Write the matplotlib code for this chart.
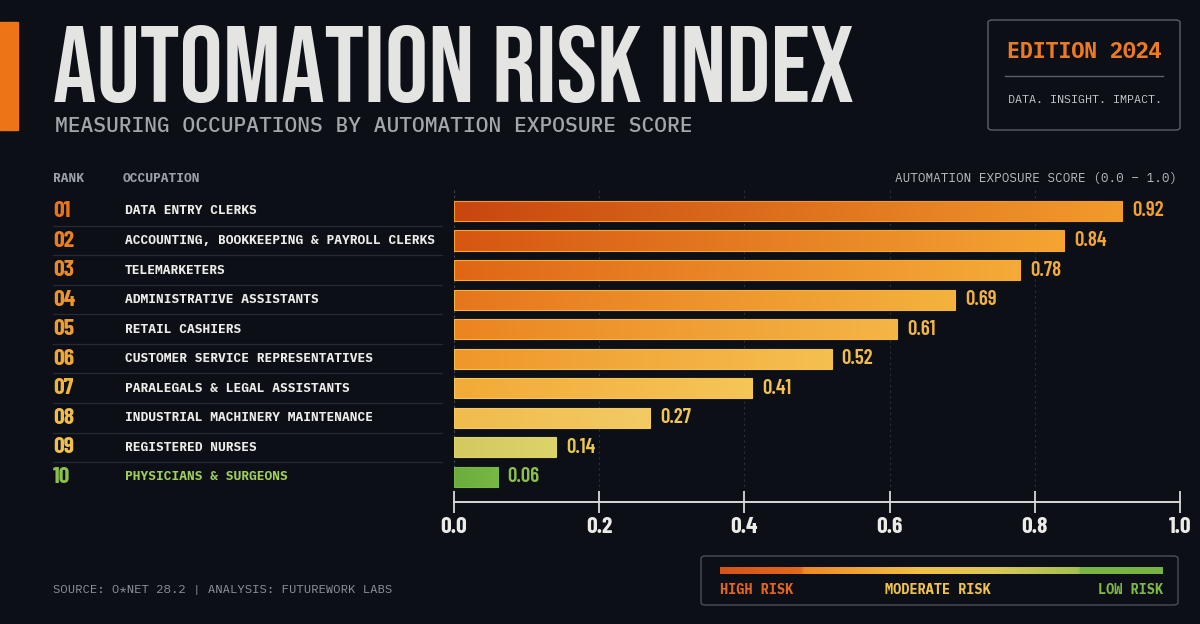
#Importing the matplotlib and numpy library
import numpy as np
import matplotlib.pyplot as plt
from matplotlib.patches import FancyBboxPatch, Rectangle
from matplotlib.colors import LinearSegmentedColormap
from matplotlib.transforms import blended_transform_factory

#Chart data
ranks = ['01', '02', '03', '04', '05', '06', '07', '08', '09', '10']
occupations = ['DATA ENTRY CLERKS',
               'ACCOUNTING, BOOKKEEPING & PAYROLL CLERKS',
               'TELEMARKETERS',
               'ADMINISTRATIVE ASSISTANTS',
               'RETAIL CASHIERS',
               'CUSTOMER SERVICE REPRESENTATIVES',
               'PARALEGALS & LEGAL ASSISTANTS',
               'INDUSTRIAL MACHINERY MAINTENANCE',
               'REGISTERED NURSES',
               'PHYSICIANS & SURGEONS']
scores = [0.92, 0.84, 0.78, 0.69, 0.61, 0.52, 0.41, 0.27, 0.14, 0.06]
x_ticks = [0.0, 0.2, 0.4, 0.6, 0.8, 1.0]

#Styles
BG = '#0c1016'
TITLE = ['Bebas Neue', 'Oswald', 'DejaVu Sans']
COND = ['Barlow Condensed', 'Oswald', 'DejaVu Sans']
MONO = ['IBM Plex Mono', 'DejaVu Sans Mono']
bar_left = ['#c9460f', '#d65612', '#e06616', '#e6761c', '#ec8420',
            '#f0962a', '#f2aa38', '#f0bc4c', '#d2ca60', '#6aac3c']
bar_right = ['#f29a2c', '#f4a533', '#f4ab38', '#f4b23e', '#f4b646',
             '#f5c050', '#f5c658', '#f3ca64', '#dcd46a', '#78b844']
rank_col = ['#e8741c', '#ea7e20', '#ec8a26', '#ee942a', '#ee9e30',
            '#f0a836', '#f0b440', '#f0bc4a', '#f0c04e', '#8cc04a']
value_col = ['#f2a030', '#f2a636', '#f2ac3a', '#f2b240', '#f2b646',
             '#f2bc4a', '#f2c050', '#f2c452', '#e8c850', '#8cc04a']
name_col = ['#ecebe8'] * 9 + ['#a0cc5a']

W, H = 1200, 624
def fx(x):
    return x / W
def fy(y):
    return 1 - y / H

fig = plt.figure(figsize=(12, 6.24), dpi=100, facecolor=BG)

#Main bar axes
ax = fig.add_axes([fx(454), fy(502), fx(1180) - fx(454), fy(190) - fy(502)])
ax.set_facecolor('none')
ax.set_autoscale_on(False)
ax.set_xlim(0, 1)
ax.set_ylim(9.85, -0.71)

y = np.arange(len(scores))
bars = ax.barh(y, scores, height=0.68, facecolor='none', zorder=3)
grad = np.linspace(0, 1, 256).reshape(1, -1)
for i, b in enumerate(bars):
    b.set_edgecolor(bar_right[i])
    b.set_linewidth(0.8)
    cmap = LinearSegmentedColormap.from_list('g%d' % i, [bar_left[i], bar_right[i]])
    im = ax.imshow(grad, extent=(0, scores[i], i + 0.34, i - 0.34), cmap=cmap,
                   aspect='auto', zorder=2, interpolation='bilinear')
    im.set_clip_path(b)
    ax.text(scores[i] + 0.014, i, '%.2f' % scores[i], va='center', ha='left',
            fontfamily=COND, fontweight='semibold', fontsize=15, color=value_col[i])

#Grid lines
ax.vlines([0.2, 0.4, 0.6, 0.8], -0.71, 9.55, colors='#2a3038', linestyles=(0, (2, 3)), lw=0.8, zorder=1)
ax.vlines([0.0], -0.71, 9.7, colors='#3c434c', linestyles=(0, (2, 2)), lw=0.9, zorder=1)

for s in ['top', 'right', 'left']:
    ax.spines[s].set_visible(False)
ax.spines['bottom'].set_color('#d8d8d8')
ax.spines['bottom'].set_linewidth(1.4)
ax.set_yticks([])
ax.set_xticks(x_ticks)
ax.set_xticklabels(['%.1f' % t for t in x_ticks])
ax.tick_params(axis='x', direction='inout', length=16, width=1.3, color='#d8d8d8',
               pad=3, labelcolor='#ecebe8')
for lbl in ax.get_xticklabels():
    lbl.set_fontfamily(COND)
    lbl.set_fontweight('bold')
    lbl.set_fontsize(17)
ax.set_xlim(0, 1)
ax.set_ylim(9.85, -0.71)

#Row labels on the left
trans = blended_transform_factory(fig.transFigure, ax.transData)
for i in range(len(scores)):
    ax.text(fx(53), i, ranks[i], transform=trans, va='center', ha='left',
            fontfamily=COND, fontweight='bold', fontsize=17, color=rank_col[i], clip_on=False)
    ax.text(fx(125), i, occupations[i], transform=trans, va='center', ha='left',
            fontfamily=MONO, fontweight='bold', fontsize=9.3, color=name_col[i], clip_on=False)
    if i < len(scores) - 1:
        ax.plot([fx(53), fx(442)], [i + 0.5, i + 0.5], transform=trans, color='#262b32',
                lw=0.9, clip_on=False)

#Headers
fig.text(fx(53), fy(179), 'RANK', fontfamily=MONO, fontweight='bold', fontsize=9.3,
         color='#9aa0a8', va='center')
fig.text(fx(123), fy(179), 'OCCUPATION', fontfamily=MONO, fontweight='bold', fontsize=9.3,
         color='#9aa0a8', va='center')
fig.text(fx(1177), fy(179), 'AUTOMATION EXPOSURE SCORE (0.0 – 1.0)', fontfamily=MONO,
         fontsize=9.1, color='#b8bcc0', va='center', ha='right')

#Title block
fig.add_artist(Rectangle((0, fy(130)), fx(18), fy(22) - fy(130), transform=fig.transFigure,
                         color='#ee7418'))
fig.text(fx(53), fy(102), 'AUTOMATION RISK INDEX', fontfamily=TITLE,
         fontsize=78, color='#e4e4e2', va='baseline', ha='left')
fig.text(fx(55), fy(125), 'MEASURING OCCUPATIONS BY AUTOMATION EXPOSURE SCORE',
         fontfamily=MONO, fontweight='medium', fontsize=15.3, color='#a3a7ab',
         va='center_baseline', ha='left')

#Edition box
fig.add_artist(FancyBboxPatch((fx(988), fy(130)), fx(1180) - fx(988), fy(20) - fy(130),
                              boxstyle='round,pad=0,rounding_size=0.004', transform=fig.transFigure,
                              fc='none', ec='#5c6168', lw=1))
fig.text(fx(1084), fy(52), 'EDITION 2024', fontfamily=MONO, fontweight='bold', fontsize=15.5,
         color='#ec7a22', va='center', ha='center')
fig.add_artist(plt.Line2D([fx(1005), fx(1163)], [fy(76), fy(76)], transform=fig.transFigure,
                          color='#5c6168', lw=1))
fig.text(fx(1085), fy(100), 'DATA. INSIGHT. IMPACT.', fontfamily=MONO, fontsize=8.5,
         color='#c4c8cc', va='center', ha='center')

#Legend box
fig.add_artist(FancyBboxPatch((fx(701), fy(605)), fx(1178) - fx(701), fy(556) - fy(605),
                              boxstyle='round,pad=0,rounding_size=0.004', transform=fig.transFigure,
                              fc='none', ec='#4a5058', lw=1))
lax = fig.add_axes([fx(720), fy(574), fx(1163) - fx(720), fy(567) - fy(574)])
legend_cmap = LinearSegmentedColormap.from_list('risk', [(0.0, '#d4541a'), (0.18, '#e2681c'),
                                                         (0.19, '#ee8a26'), (0.45, '#f2c046'),
                                                         (0.62, '#dcc858'), (0.81, '#a4c050'),
                                                         (0.815, '#7ab646'), (1.0, '#78b444')])
lax.imshow(grad, cmap=legend_cmap, aspect='auto')
lax.axis('off')
fig.text(fx(720), fy(590), 'HIGH RISK', fontfamily=MONO, fontweight='bold', fontsize=9.8,
         color='#e2661e', va='center', ha='left')
fig.text(fx(938), fy(590), 'MODERATE RISK', fontfamily=MONO, fontweight='bold', fontsize=9.8,
         color='#f0c24c', va='center', ha='center')
fig.text(fx(1163), fy(590), 'LOW RISK', fontfamily=MONO, fontweight='bold', fontsize=9.8,
         color='#7eb648', va='center', ha='right')

#Footer
fig.text(fx(53), fy(590), 'SOURCE: O*NET 28.2 | ANALYSIS: FUTUREWORK LABS', fontfamily=MONO,
         fontsize=8.8, color='#8e949a', va='center', ha='left')

plt.savefig('out.png', dpi=100, facecolor=BG)
